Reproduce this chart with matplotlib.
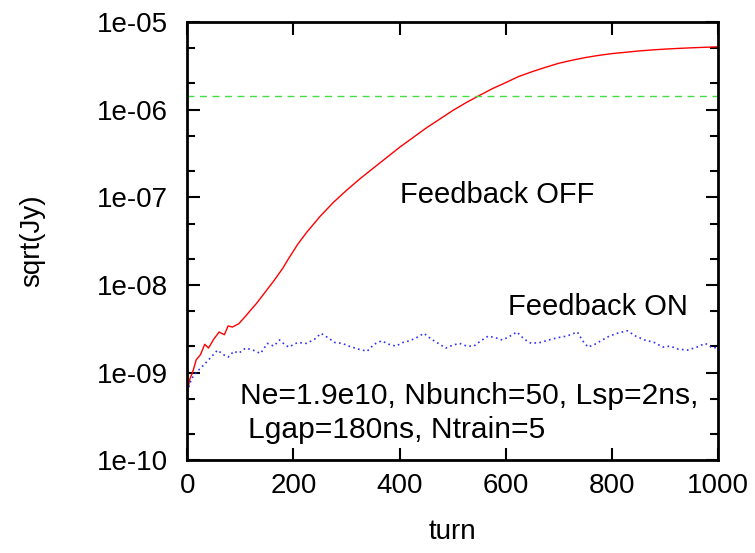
import numpy as np
import matplotlib
matplotlib.use("Agg")
import matplotlib.pyplot as plt
from matplotlib.ticker import LogLocator, NullFormatter

plt.rcParams['font.family'] = ['Liberation Sans', 'DejaVu Sans']

# Feedback OFF (red)
off_turn = [0, 5, 10, 17, 25, 33, 40, 50, 60, 70, 77, 85, 97, 110, 120, 131,
            145, 164, 180, 191, 208, 225, 250, 275, 300, 325, 350, 375, 400,
            425, 450, 475, 500, 525, 550, 575, 600, 625, 650, 675, 700, 725,
            750, 775, 800, 825, 850, 875, 900, 925, 950, 975, 1000]
off_val = [5.8e-10, 8.5e-10, 1.0e-9, 1.4e-9, 1.6e-9, 2.1e-9, 1.9e-9, 2.4e-9,
           2.9e-9, 2.7e-9, 3.4e-9, 3.3e-9, 3.6e-9, 4.4e-9, 5.2e-9, 6.2e-9,
           8.0e-9, 1.13e-8, 1.55e-8, 2.0e-8, 2.9e-8, 3.98e-8, 6.03e-8,
           8.71e-8, 1.20e-7, 1.62e-7, 2.14e-7, 2.82e-7, 3.72e-7, 4.79e-7,
           6.17e-7, 7.76e-7, 9.77e-7, 1.20e-6, 1.45e-6, 1.74e-6, 2.04e-6,
           2.40e-6, 2.72e-6, 3.05e-6, 3.39e-6, 3.67e-6, 3.94e-6, 4.17e-6,
           4.37e-6, 4.52e-6, 4.68e-6, 4.81e-6, 4.92e-6, 5.01e-6, 5.09e-6,
           5.16e-6, 5.22e-6]

# Feedback ON (blue)
on_turn = [0, 8, 17, 30, 45, 57, 68, 77, 88, 97, 110, 124, 138, 151, 163,
           174, 183, 191, 208, 225, 240, 252, 265, 278, 292, 305, 322, 339,
           352, 366, 380, 393, 406, 419, 432, 446, 460, 473, 487, 500, 513,
           527, 540, 553, 567, 580, 594, 608, 621, 635, 648, 665, 681, 698,
           715, 725, 735, 745, 755, 768, 782, 795, 810, 829, 845, 862, 880,
           896, 910, 925, 943, 960, 976, 990, 1000]
on_val = [6.0e-10, 8.5e-10, 1.0e-9, 1.2e-9, 1.5e-9, 1.8e-9, 1.6e-9, 1.5e-9,
          1.75e-9, 1.66e-9, 1.9e-9, 1.8e-9, 1.65e-9, 2.15e-9, 2.0e-9, 2.35e-9,
          2.1e-9, 1.95e-9, 2.2e-9, 2.15e-9, 2.4e-9, 2.8e-9, 2.5e-9, 2.2e-9,
          2.15e-9, 2.0e-9, 1.85e-9, 1.75e-9, 2.1e-9, 2.3e-9, 2.1e-9, 2.0e-9,
          2.2e-9, 2.3e-9, 2.5e-9, 2.8e-9, 2.4e-9, 2.15e-9, 1.9e-9, 2.05e-9,
          2.15e-9, 2.0e-9, 2.0e-9, 2.3e-9, 2.6e-9, 2.5e-9, 2.35e-9, 2.6e-9,
          2.9e-9, 2.4e-9, 2.15e-9, 2.2e-9, 2.35e-9, 2.5e-9, 2.6e-9, 2.75e-9,
          2.9e-9, 2.3e-9, 1.95e-9, 2.1e-9, 2.35e-9, 2.6e-9, 2.8e-9, 3.0e-9,
          2.6e-9, 2.35e-9, 2.2e-9, 1.95e-9, 2.0e-9, 1.85e-9, 1.8e-9, 1.95e-9,
          2.15e-9, 1.9e-9, 1.95e-9]

threshold = 1.43e-6

fig = plt.figure(figsize=(7.55, 5.53), dpi=100)
ax = fig.add_axes([0.248, 0.168, 0.703, 0.792])

ax.plot(off_turn, off_val, color='red', lw=1.0)
ax.plot(on_turn, on_val, color='#3030ff', lw=1.2, linestyle=(0, (1, 2)))
ax.axhline(threshold, color='#44dd44', lw=1.0, linestyle=(0, (5, 4)))

ax.set_yscale('log')
ax.set_xlim(0, 1000)
ax.set_ylim(1e-10, 1e-5)
ax.set_xticks([0, 200, 400, 600, 800, 1000])
ax.set_yticks([1e-10, 1e-9, 1e-8, 1e-7, 1e-6, 1e-5])
ax.set_yticklabels(['1e-10', '1e-09', '1e-08', '1e-07', '1e-06', '1e-05'])
ax.yaxis.set_minor_locator(LogLocator(base=10, subs=(2.0, 5.0)))
ax.yaxis.set_minor_formatter(NullFormatter())

ax.tick_params(which='both', direction='in', top=True, right=True,
               labelsize=20, width=1.5)
ax.tick_params(which='major', length=9)
ax.tick_params(axis='y', which='major', pad=14)
ax.tick_params(axis='x', which='major', pad=9)
ax.tick_params(which='minor', length=6)
for s in ax.spines.values():
    s.set_linewidth(2)

ax.set_xlabel('turn', fontsize=20)
ax.set_ylabel('sqrt(Jy)', fontsize=20)
ax.xaxis.set_label_coords(0.5, -0.135)
ax.yaxis.set_label_coords(-0.267, 0.5)

ax.text(584, 1.06e-7, 'Feedback OFF', fontsize=21, ha='center', va='center')
ax.text(774, 5.6e-9, 'Feedback ON', fontsize=21, ha='center', va='center')
ax.text(100, 5.4e-10, 'Ne=1.9e10, Nbunch=50, Lsp=2ns,', fontsize=21.6,
        ha='left', va='center')
ax.text(115, 2.2e-10, 'Lgap=180ns, Ntrain=5', fontsize=21.6,
        ha='left', va='center')

fig.savefig('out.png', dpi=100)
